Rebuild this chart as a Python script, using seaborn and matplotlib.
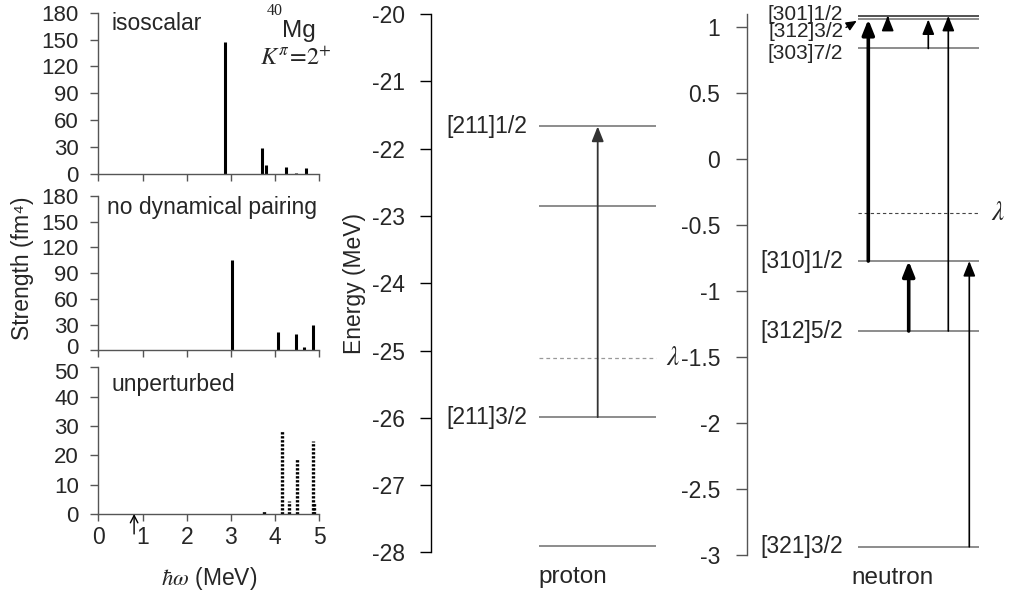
import matplotlib
matplotlib.use("Agg")
import matplotlib.pyplot as plt
import matplotlib.transforms as mtransforms
import seaborn as sns

# ---------------- data ----------------
omega_ticks = [0, 1, 2, 3, 4, 5]
strength_ticks_big = [0, 30, 60, 90, 120, 150, 180]
strength_ticks_small = [0, 10, 20, 30, 40, 50]

isoscalar_E = [2.87, 3.70, 3.79, 4.25, 4.47, 4.71]
isoscalar_S = [147, 29, 10, 7.5, 1.0, 6.0]
nodyn_E = [3.02, 4.06, 4.47, 4.65, 4.86]
nodyn_S = [105, 21, 19, 3.5, 29]
unpert_E = [3.76, 4.15, 4.31, 4.50, 4.86, 4.89]
unpert_S = [1.2, 28.3, 4.4, 19.1, 24.8, 4.2]
threshold_E = 0.81

proton_ticks = [-20, -21, -22, -23, -24, -25, -26, -27, -28]
proton_levels = [-21.67, -22.85, -25.99, -27.90]
proton_labels = ["[211]1/2", "", "[211]3/2", ""]
proton_lambda = -25.11
proton_from = [-25.99]
proton_to = [-21.67]

neutron_ticks = [1, 0.5, 0, -0.5, -1, -1.5, -2, -2.5, -3]
neutron_tick_labels = ["1", "0.5", "0", "-0.5", "-1", "-1.5", "-2", "-2.5", "-3"]
neutron_levels = [1.083, 1.056, 0.836, -0.775, -1.305, -2.94]
neutron_labels = ["[301]1/2", "[312]3/2", "[303]7/2", "[310]1/2", "[312]5/2", "[321]3/2"]
neutron_lambda = -0.41
neutron_from = [-0.775, 1.056, 0.836, -1.305, -1.305, -2.94]
neutron_to = [1.056, 1.083, 1.056, 1.083, -0.775, -0.775]
neutron_thick = [True, False, False, False, True, False]

# ---------------- style ----------------
sns.set_theme(style="ticks")
plt.rcParams["font.family"] = ["Liberation Sans", "DejaVu Sans"]
plt.rcParams["mathtext.fontset"] = "stix"
plt.rcParams["axes.unicode_minus"] = False

W, H = 1017, 597
fig = plt.figure(figsize=(W / 100, H / 100), dpi=100)
fig.patch.set_facecolor("white")


def rect(x0, y0, x1, y1):
    return [x0 / W, 1 - y1 / H, (x1 - x0) / W, (y1 - y0) / H]


def fpos(x, y):
    return (x / W, 1 - y / H)


FS = 16.5
GRAY = "#555555"
LEVEL = "#6e6e6e"

# ---------------- strength panels ----------------
ax1 = fig.add_axes(rect(98.3, 12.7, 319.3, 173.7))
ax2 = fig.add_axes(rect(98.3, 196.0, 319.3, 350.3))
ax3 = fig.add_axes(rect(98.3, 367.3, 319.3, 514.0))

for ax, E, S, yt, ymax, name, ty in [
    (ax1, isoscalar_E, isoscalar_S, strength_ticks_big, 180, "isoscalar", 23),
    (ax2, nodyn_E, nodyn_S, strength_ticks_big, 180, "no dynamical pairing", 207),
    (ax3, unpert_E, unpert_S, strength_ticks_small, 50, "unperturbed", 384),
]:
    if ax is ax3:
        ax.vlines(E, 0, S, colors="black", linewidth=2.4, linestyles=(0, (0.7, 0.5)))
    else:
        ax.vlines(E, 0, S, colors="black", linewidth=2.2)
    ax.set_xlim(0, 5)
    ax.set_ylim(0, ymax)
    ax.set_yticks(yt)
    ax.set_xticks(omega_ticks)
    sns.despine(ax=ax)
    for sp in ("left", "bottom"):
        ax.spines[sp].set_color(GRAY)
        ax.spines[sp].set_linewidth(1.0)
    ax.tick_params(axis="y", direction="out", length=6, width=1, color=GRAY,
                   labelsize=FS - 0.5, pad=8)
    ax.tick_params(axis="x", direction="out", length=5, width=1, color=GRAY,
                   labelsize=FS, pad=4)
    ax.set_facecolor("white")
    fig.text(*fpos(107 if ax is ax2 else 111.7, ty), name, fontsize=FS,
             ha="left", va="center")

ax1.tick_params(axis="x", labelbottom=False)
ax2.tick_params(axis="x", labelbottom=False)
ax3.set_xlabel(r"$\hbar\omega$ (MeV)", fontsize=FS, labelpad=11)
ax3.annotate("", xy=(threshold_E, 0), xytext=(threshold_E, -6.8),
             annotation_clip=False,
             arrowprops=dict(arrowstyle="->,head_length=0.35,head_width=0.18",
                             lw=1.0, color="black", shrinkA=0, shrinkB=0,
                             mutation_scale=15))

# nudge the two crowded tick labels between middle and bottom panel apart
up = mtransforms.ScaledTranslation(0, 3 / 72, fig.dpi_scale_trans)
down = mtransforms.ScaledTranslation(0, -3 / 72, fig.dpi_scale_trans)
lab_mid0 = ax2.get_yticklabels()[0]
lab_mid0.set_transform(lab_mid0.get_transform() + up)
lab_bot50 = ax3.get_yticklabels()[-1]
lab_bot50.set_transform(lab_bot50.get_transform() + down)

fig.text(*fpos(22, 268), "Strength (fm\u2074)", rotation=90, fontsize=FS,
         ha="center", va="center")
fig.text(*fpos(275, 11), "40", family="Liberation Serif", fontsize=11.5,
         ha="center", va="center")
fig.text(*fpos(299, 31), "Mg", fontsize=FS + 1, ha="center", va="center")
fig.text(*fpos(296, 59), r"$K^{\pi}\!=\!2^{+}$", fontsize=FS + 1,
         ha="center", va="center")

# ---------------- proton panel ----------------
PW = 284.0
axp = fig.add_axes(rect(431.0, 14.0, 431.0 + PW, 552.4))
axp.set_xlim(0, PW)
axp.set_ylim(-28, -20)
axp.set_yticks(proton_ticks)
sns.despine(ax=axp, bottom=True)
axp.set_xticks([])
axp.spines["left"].set_color("black")
axp.spines["left"].set_linewidth(1.0)
axp.tick_params(axis="y", direction="out", length=8, width=1, color="black",
                labelsize=FS, pad=11)
axp.patch.set_alpha(0)
px0, px1 = 108.0, 225.0
axp.hlines(proton_levels, px0, px1, colors=LEVEL, linewidth=1.1)
axp.hlines([proton_lambda], px0, px1, colors="#999999", linewidth=0.9,
           linestyles=(0, (3, 2.5)))
for e, lab in zip(proton_levels, proton_labels):
    if lab:
        axp.text(px0 - 12, e, lab, fontsize=FS, ha="right", va="center")
axp.text(px1 + 10, proton_lambda, r"$\lambda$", fontsize=FS + 3, ha="left",
         va="center", clip_on=False)
for a, b in zip(proton_from, proton_to):
    axp.annotate("", xy=(166.7, b), xytext=(166.7, a),
                 arrowprops=dict(arrowstyle="-|>,head_length=0.45,head_width=0.18",
                                 lw=1.3, color="#333333", shrinkA=0, shrinkB=0,
                                 mutation_scale=20))
fig.text(*fpos(354, 283), "Energy (MeV)", rotation=90, fontsize=FS,
         ha="center", va="center")
fig.text(*fpos(573, 577), "proton", fontsize=FS + 1, ha="center", va="center")

# ---------------- neutron panel ----------------
NW = 270.3
axn = fig.add_axes(rect(746.7, 14.0, 746.7 + NW, 554.7))
axn.set_xlim(0, NW)
axn.set_ylim(-3, 1.097)
axn.set_yticks(neutron_ticks)
axn.set_yticklabels(neutron_tick_labels)
sns.despine(ax=axn, bottom=True)
axn.set_xticks([])
axn.spines["left"].set_color(GRAY)
axn.spines["left"].set_linewidth(1.0)
axn.tick_params(axis="y", direction="out", length=8, width=1, color=GRAY,
                labelsize=FS, pad=11)
axn.patch.set_alpha(0)
nx0, nx1 = 111.6, 232.6
level_colors = ["#222222"] + [LEVEL] * (len(neutron_levels) - 1)
axn.hlines(neutron_levels, nx0, nx1, colors=level_colors, linewidth=1.1)
axn.hlines([neutron_lambda], nx0, nx1, colors="#444444", linewidth=0.8,
           linestyles=(0, (3, 2.5)))
label_y = [1.092, 0.962, 0.80] + neutron_levels[3:]
label_fs = [FS - 1.5] * 3 + [FS] * 3
for ly, lab, fs in zip(label_y, neutron_labels, label_fs):
    axn.text(nx0 - 15, ly, lab, fontsize=fs, ha="right", va="center")
axn.text(nx1 + 12, neutron_lambda, r"$\lambda$", fontsize=FS + 3, ha="left",
         va="center", clip_on=False)
arrow_x = [121.6, 141.0, 181.6, 201.6, 162.0, 222.6]
for x, a, b, thick in zip(arrow_x, neutron_from, neutron_to, neutron_thick):
    axn.annotate("", xy=(x, b), xytext=(x, a),
                 arrowprops=dict(arrowstyle="-|>,head_length=0.45,head_width=0.18",
                                 lw=2.6 if thick else 1.2, color="black",
                                 shrinkA=0, shrinkB=0, mutation_scale=20))
axn.annotate("", xy=(110.0, 1.045), xytext=(99.3, 0.995),
             arrowprops=dict(arrowstyle="-|>,head_length=0.45,head_width=0.2",
                             lw=1.0, color="black", shrinkA=0, shrinkB=0,
                             mutation_scale=14))
fig.text(*fpos(893, 578), "neutron", fontsize=FS + 1, ha="center", va="center")

fig.savefig("out.png", dpi=100, facecolor="white")
